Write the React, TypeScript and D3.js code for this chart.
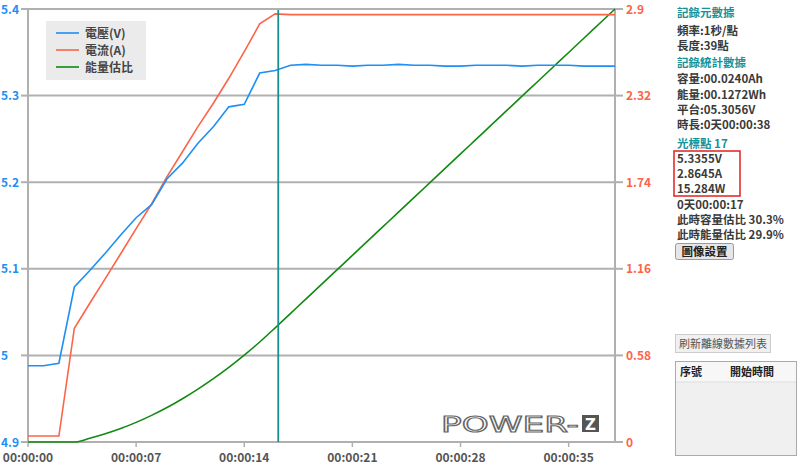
import React from "react";
import * as d3 from "d3";

const times = d3.range(0, 39);
const voltage = [
  4.988, 4.988, 4.991, 5.079, 5.098, 5.118, 5.139, 5.159, 5.174, 5.204,
  5.222, 5.245, 5.264, 5.287, 5.29, 5.326, 5.329, 5.335, 5.336, 5.335,
  5.335, 5.334, 5.335, 5.335, 5.336, 5.335, 5.335, 5.334, 5.334, 5.335,
  5.335, 5.335, 5.334, 5.335, 5.335, 5.335, 5.334, 5.334, 5.334,
];
const current = [
  0.04, 0.04, 0.04, 0.762, 0.929, 1.094, 1.261, 1.429, 1.594, 1.777,
  1.944, 2.112, 2.269, 2.436, 2.614, 2.8, 2.867, 2.862, 2.862, 2.862,
  2.862, 2.862, 2.862, 2.862, 2.862, 2.862, 2.862, 2.862, 2.862, 2.862,
  2.862, 2.862, 2.862, 2.862, 2.862, 2.862, 2.862, 2.862, 2.862,
];
const energyPct = [
  0, 0, 0, 0, 0.85, 1.89, 3.11, 4.53, 6.15, 7.95,
  9.98, 12.21, 14.63, 17.25, 20.07, 23.1, 26.37, 29.72, 33.07, 36.41,
  39.76, 43.11, 46.45, 49.8, 53.15, 56.49, 59.84, 63.19, 66.53, 69.88,
  73.23, 76.57, 79.92, 83.26, 86.61, 89.96, 93.3, 96.65, 100,
];
const leftTicks = [4.9, 5, 5.1, 5.2, 5.3, 5.4];
const rightTicks = [0, 0.58, 1.16, 1.74, 2.32, 2.9];
const xTicks = [0, 7, 14, 21, 28, 35];
const cursorTime = 16.2;
const legendItems = [
  { label: "電壓(V)", color: "#1e8ff5" },
  { label: "電流(A)", color: "#fb6549" },
  { label: "能量估比", color: "#118a11" },
];
const panelLines = [
  { text: "記錄元數據", teal: true, cy: 13 },
  { text: "頻率:1秒/點", teal: false, cy: 31 },
  { text: "長度:39點", teal: false, cy: 46 },
  { text: "記錄統計數據", teal: true, cy: 63 },
  { text: "容量:00.0240Ah", teal: false, cy: 79 },
  { text: "能量:00.1272Wh", teal: false, cy: 95 },
  { text: "平台:05.3056V", teal: false, cy: 110 },
  { text: "時長:0天00:00:38", teal: false, cy: 125 },
  { text: "光標點 17", teal: true, cy: 144 },
  { text: "5.3355V", teal: false, cy: 159 },
  { text: "2.8645A", teal: false, cy: 174 },
  { text: "15.284W", teal: false, cy: 189 },
  { text: "0天00:00:17", teal: false, cy: 205 },
  { text: "此時容量估比 30.3%", teal: false, cy: 220 },
  { text: "此時能量估比 29.9%", teal: false, cy: 235 },
];

const fmtTime = (s: number) => {
  const h = Math.floor(s / 3600);
  const m = Math.floor((s % 3600) / 60);
  const sec = s % 60;
  const p = (n: number) => String(n).padStart(2, "0");
  return `${p(h)}:${p(m)}:${p(sec)}`;
};

export default function App() {
  const L = 28, R = 615, T = 9, B = 442;
  const x = d3.scaleLinear().domain([0, 38]).range([L, R]);
  const yL = d3.scaleLinear().domain([4.9, 5.4]).range([B, T]);
  const yR = d3.scaleLinear().domain([0, 2.9]).range([B, T]);

  const lineV = d3.line<number>().x((_, i) => x(times[i])).y((d) => yL(d))(voltage) || "";
  const lineA = d3.line<number>().x((_, i) => x(times[i])).y((d) => yR(d))(current) || "";
  const lineE = d3
    .line<number>()
    .x((_, i) => x(times[i]))
    .y((d) => yR((d / 100) * 2.9))
    .curve(d3.curveMonotoneX)(energyPct) || "";

  const font = "'Noto Sans CJK TC', 'Noto Sans', sans-serif";
  const grid = "#b0b0b0";

  return (
    <svg
      width={800}
      height={466}
      style={{ position: "absolute", left: 0, top: 0, background: "#fff" }}
      fontFamily={font}
    >
      {leftTicks.map((t) => (
        <line key={"g" + t} x1={L} x2={R} y1={yL(t)} y2={yL(t)} stroke={grid} strokeWidth={2} />
      ))}
      <line x1={L} x2={L} y1={T - 1} y2={B + 1} stroke={grid} strokeWidth={2} />
      <line x1={R} x2={R} y1={T - 1} y2={B + 1} stroke={grid} strokeWidth={2} />
      {leftTicks.map((t) => (
        <g key={"l" + t}>
          <line x1={21} x2={L} y1={yL(t)} y2={yL(t)} stroke={grid} strokeWidth={2} />
          <text x={1} y={yL(t) + 4.5} fontSize={12} fontWeight="bold" fill="#1e8ff5">
            {t === 5 ? "5" : t.toFixed(1)}
          </text>
        </g>
      ))}
      {rightTicks.map((t) => (
        <g key={"r" + t}>
          <line x1={R} x2={623} y1={yR(t)} y2={yR(t)} stroke={grid} strokeWidth={2} />
          <text x={626} y={yR(t) + 4.5} fontSize={12} fontWeight="bold" fill="#fb6549">
            {String(t)}
          </text>
        </g>
      ))}
      {xTicks.map((t) => (
        <g key={"x" + t}>
          <line x1={x(t)} x2={x(t)} y1={B} y2={B + 5} stroke={grid} strokeWidth={1.5} />
          <text x={x(t)} y={462} fontSize={12} fontWeight="bold" fill="#555" textAnchor="middle">
            {fmtTime(t)}
          </text>
        </g>
      ))}

      <path d={lineE} fill="none" stroke="#118a11" strokeWidth={1.6} />
      <path d={lineA} fill="none" stroke="#fb6549" strokeWidth={1.6} />
      <path d={lineV} fill="none" stroke="#1e8ff5" strokeWidth={1.6} />

      <line x1={x(cursorTime)} x2={x(cursorTime)} y1={T + 1} y2={B} stroke="#17908f" strokeWidth={1.8} />

      <rect x={46} y={21} width={100} height={59} fill="#ebebeb" />
      {legendItems.map((it, i) => (
        <g key={it.label}>
          <line x1={56} x2={79} y1={33 + i * 17} y2={33 + i * 17} stroke={it.color} strokeWidth={1.6} />
          <text x={85} y={37.5 + i * 17} fontSize={12} fill="#444" fontWeight={600}>
            {it.label}
          </text>
        </g>
      ))}

      <g>
        <text
          x={441}
          y={432}
          fontSize={22}
          fontFamily="'DejaVu Sans', sans-serif"
          fill="none"
          stroke="#666"
          strokeWidth={1.1}
          textLength={138}
          lengthAdjust="spacingAndGlyphs"
        >
          POWER-
        </text>
        <rect x={582} y={415} width={17} height={17} fill="#555" />
        <text x={590.5} y={429.5} fontSize={15} fontWeight="bold" fill="#fff" textAnchor="middle" fontFamily="'DejaVu Sans', sans-serif">
          Z
        </text>
      </g>

      {panelLines.map((l, i) => (
        <text
          key={"p" + i}
          x={677}
          y={l.cy + 4.3}
          fontSize={11.5}
          fontWeight={600}
          fill={l.teal ? "#14939b" : "#3a3a3a"}
        >
          {l.text}
        </text>
      ))}
      <rect x={674} y={151} width={66} height={45} fill="none" stroke="#e02020" strokeWidth={1.5} />
      <rect x={675.5} y={243.5} width={58} height={16} fill="#e6e6e6" stroke="#999" rx={2} />
      <text x={704.5} y={256} fontSize={11.5} fill="#222" textAnchor="middle" fontWeight={600}>
        圖像設置
      </text>
      <rect x={675.5} y={334.5} width={95} height={18} fill="#f0f0f0" stroke="#ccc" />
      <text x={723} y={348} fontSize={11} fill="#555" textAnchor="middle">
        刷新離線數據列表
      </text>
      <rect x={675.5} y={361.5} width={121} height={94} fill="#f0f0f0" stroke="#aaa" />
      <rect x={676} y={362} width={120} height={20} fill="#f7f7f7" />
      <line x1={676} x2={796} y1={382} y2={382} stroke="#ddd" />
      <text x={680} y={376} fontSize={11} fill="#222" fontWeight={600}>
        序號
      </text>
      <text x={730} y={376} fontSize={11} fill="#222" fontWeight={600}>
        開始時間
      </text>
    </svg>
  );
}
